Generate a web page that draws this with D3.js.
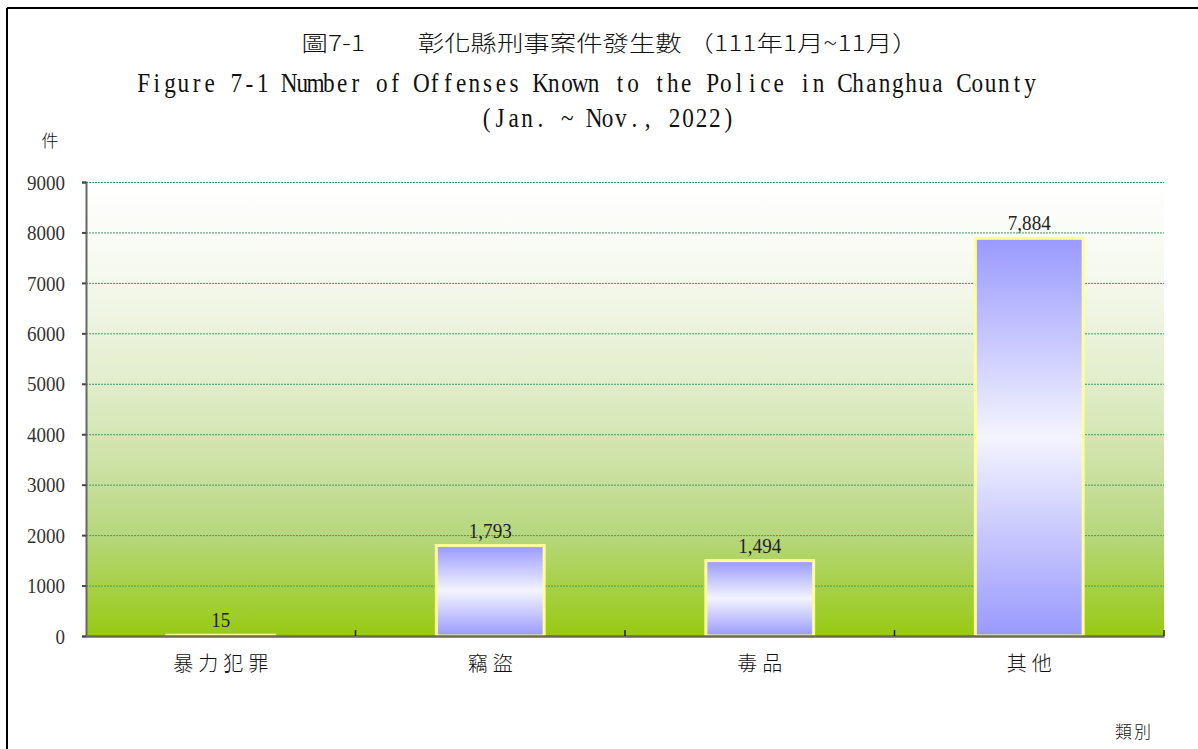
<!DOCTYPE html>
<html><head><meta charset="utf-8">
<script src="https://cdn.jsdelivr.net/npm/d3@7"></script>
<style>body{margin:0;background:#fff}svg{display:block}</style>
</head><body>
<script>
const categories = ["暴力犯罪","竊盜","毒品","其他"];
const values = [15, 1793, 1494, 7884];
const yTicks = [0,1000,2000,3000,4000,5000,6000,7000,8000,9000];
const titleZh = "圖7-1　　彰化縣刑事案件發生數 （111年1月~11月）";
const titleEn1 = "Figure 7-1 Number of Offenses Known to the Police in Changhua County";
const titleEn2 = "(Jan. ~ Nov., 2022)";

const W = 1198, H = 749;
const m = {left: 86, right: 1164, top: 182, bottom: 636};
const svg = d3.select("body").append("svg").attr("width", W).attr("height", H);
const defs = svg.append("defs");

const bg = defs.append("linearGradient").attr("id","bg").attr("x1",0).attr("y1",0).attr("x2",0).attr("y2",1);
[[0,"#ffffff"],[0.2,"#f6f9ef"],[0.45,"#e1edca"],[0.62,"#cde2a6"],[0.78,"#b6d77c"],[1,"#98ca12"]]
  .forEach(([o,c])=>bg.append("stop").attr("offset",o).attr("stop-color",c));
const bar = defs.append("linearGradient").attr("id","bar").attr("x1",0).attr("y1",0).attr("x2",0).attr("y2",1);
[[0,"#9999ff"],[0.5,"#f4f4ff"],[1,"#9999ff"]]
  .forEach(([o,c])=>bar.append("stop").attr("offset",o).attr("stop-color",c));

// frame
svg.append("line").attr("x1",7).attr("x2",W).attr("y1",8).attr("y2",8).attr("stroke","#000").attr("stroke-width",2);
svg.append("line").attr("x1",7).attr("x2",7).attr("y1",8).attr("y2",H).attr("stroke","#000").attr("stroke-width",2);

const x = d3.scaleBand().domain(categories).range([m.left, m.right]).paddingInner(0.6).paddingOuter(0.3);
const xb = d3.scaleBand().domain(categories).range([m.left, m.right]);
const y = d3.scaleLinear().domain([0, 9000]).range([m.bottom, m.top]);

svg.append("rect").attr("x",m.left).attr("y",m.top).attr("width",m.right-m.left).attr("height",m.bottom-m.top).attr("fill","url(#bg)");

// gridlines
svg.append("g").selectAll("line").data(yTicks.filter(d=>d>0)).join("line")
  .attr("x1",m.left).attr("x2",m.right).attr("y1",d=>y(d)+0.5).attr("y2",d=>y(d)+0.5)
  .attr("stroke","#3f9a6a").attr("stroke-width",1).attr("stroke-dasharray","2,1");

// y axis
const ya = svg.append("g").attr("transform",`translate(${m.left},0)`)
  .call(d3.axisLeft(y).tickValues(yTicks).tickSize(4).tickPadding(20).tickFormat(d3.format("d")));
ya.select(".domain").attr("stroke","#666").attr("stroke-width",2);
ya.selectAll(".tick line").attr("stroke","#444").attr("stroke-width",2);
ya.selectAll(".tick text").attr("font-family","Liberation Serif").attr("font-size",21).attr("fill","#333")
  .attr("x",-21).attr("dy","0.34em")
  .attr("textLength",d=>String(d).length*9.5).attr("lengthAdjust","spacingAndGlyphs");

// bars
svg.append("g").selectAll("rect").data(values).join("rect")
  .attr("x",(d,i)=>x(categories[i])).attr("width",x.bandwidth())
  .attr("y",d=>y(d)).attr("height",d=>y(0)-y(d))
  .attr("fill","url(#bar)").attr("stroke","#ffff99").attr("stroke-width",3);

// x axis
const xa = svg.append("g").attr("transform",`translate(0,${m.bottom})`)
  .call(d3.axisBottom(xb).tickSize(0).tickPadding(21));
xa.select(".domain").attr("stroke","#6b6b4a").attr("stroke-width",2.5);
xa.selectAll("text").attr("font-family","Noto Sans CJK TC").attr("font-size",20).attr("font-weight",300).attr("fill","#111")
  .attr("letter-spacing",5).attr("dx",2.5);
// category boundary ticks
svg.append("g").selectAll("line").data(categories.slice(1).concat(["_end"])).join("line")
  .attr("x1",(d,i)=> i<3 ? xb(d) : m.right).attr("x2",(d,i)=> i<3 ? xb(d) : m.right)
  .attr("y1",m.bottom).attr("y2",m.bottom-6).attr("stroke","#222").attr("stroke-width",1.5);

// value labels
const fmt = d3.format(",");
svg.append("g").selectAll("text").data(values).join("text")
  .attr("x",(d,i)=>x(categories[i])+x.bandwidth()/2).attr("y",d=>y(d)-8)
  .attr("text-anchor","middle").attr("font-family","Liberation Serif").attr("font-size",21).attr("fill","#222")
  .attr("textLength",d=>{const s=fmt(d); return s.replace(/,/g,"").length*9.5 + (s.includes(",")?5:0);})
  .attr("lengthAdjust","spacingAndGlyphs")
  .text(d=>fmt(d));

// monospace-like serif line helper
function monoLine(str, x0, baseline, pitch, size, sx){
  const chars = Array.from(str);
  const xs = chars.map((c,i)=> (x0 + (i+0.5)*pitch)/sx);
  svg.append("text").attr("transform",`scale(${sx},1)`)
    .attr("x", xs.join(" ")).attr("y", baseline)
    .attr("text-anchor","middle").attr("font-family","Liberation Serif")
    .attr("font-size",size).attr("fill","#111").text(str);
}

// titles
svg.append("text").attr("x",610).attr("y",51).attr("text-anchor","middle")
  .attr("font-family","Noto Sans CJK TC").attr("font-size",22).attr("font-weight",300).attr("fill","#111")
  .attr("textLength",617).attr("lengthAdjust","spacingAndGlyphs").text(titleZh);
monoLine(titleEn1, 137, 92, 913/69, 27, 0.86);
monoLine(titleEn2, 480, 127, 255/19, 27, 0.86);

svg.append("text").attr("x",50).attr("y",147).attr("text-anchor","middle")
  .attr("font-family","Noto Sans CJK TC").attr("font-size",17).attr("font-weight",300).attr("fill","#111").text("件");
svg.append("text").attr("x",1134).attr("y",738).attr("text-anchor","middle")
  .attr("font-family","Noto Sans CJK TC").attr("font-size",17).attr("font-weight",300).attr("fill","#111").attr("letter-spacing",2).text("類別");
</script>
</body></html>
